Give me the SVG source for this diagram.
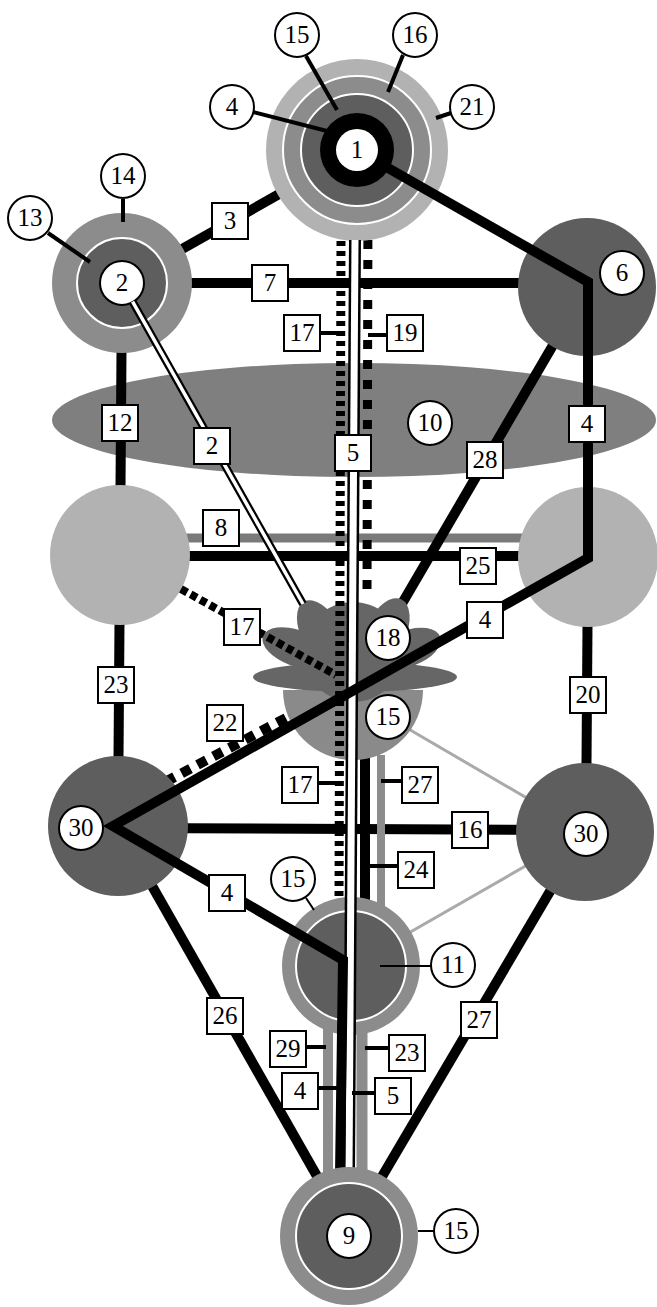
<svg xmlns="http://www.w3.org/2000/svg" width="657" height="1307" viewBox="0 0 657 1307">
<style>
.bl{stroke:#000;stroke-width:10;fill:none}
.box{fill:#fff;stroke:#000;stroke-width:2}
.lc{fill:#fff;stroke:#000;stroke-width:2}
.t{font-family:"Liberation Serif","DejaVu Serif",serif;font-size:25px;text-anchor:middle;fill:#000}
.ld{stroke:#000;stroke-width:4;fill:none}
.thin{stroke:#000;stroke-width:2;fill:none}
.lg{fill:#b2b2b2}
.mg{fill:#8c8c8c}
.dg{fill:#5e5e5e}
.pet{fill:#666}
</style>
<rect width="657" height="1307" fill="#fff"/>

<g id="node-10">
<ellipse cx="354" cy="420" rx="302" ry="57" fill="#7f7f7f"/>
<circle cx="430" cy="423" r="22" class="lc"/><text x="430" y="431" class="t">10</text>
</g>

<g id="connectors">
<line class="bl" x1="122" y1="283" x2="357" y2="150"/>
<line class="bl" x1="122" y1="283" x2="587" y2="283"/>
<line class="bl" x1="122" y1="283" x2="120" y2="555"/>
<line class="bl" x1="120" y1="555" x2="118" y2="826"/>
<line class="bl" x1="588" y1="557" x2="586" y2="832"/>
<line class="bl" x1="118" y1="828" x2="585" y2="830"/>
<line class="bl" x1="118" y1="826" x2="351" y2="1236"/>
<line class="bl" x1="585" y1="832" x2="347" y2="1236"/>
<line x1="120" y1="538" x2="588" y2="538" stroke="#7a7a7a" stroke-width="9"/>
<line class="bl" x1="120" y1="556" x2="588" y2="556"/>
<line class="bl" x1="587" y1="287" x2="400" y2="607"/>
<line x1="118" y1="807" x2="286" y2="718" stroke="#000" stroke-width="10" stroke-dasharray="10 8"/>
<line x1="351" y1="966" x2="585" y2="832" stroke="#aaa" stroke-width="3"/>
<line x1="388" y1="717" x2="585" y2="832" stroke="#aaa" stroke-width="3"/>
<line x1="368" y1="200" x2="367" y2="596" stroke="#000" stroke-width="9" stroke-dasharray="9 11"/>
<line x1="365" y1="755" x2="365" y2="910" stroke="#000" stroke-width="10"/>
<line x1="381" y1="755" x2="381" y2="910" stroke="#8c8c8c" stroke-width="8"/>
<line x1="328" y1="1000" x2="328" y2="1180" stroke="#8c8c8c" stroke-width="10"/>
<line x1="362" y1="1000" x2="362" y2="1180" stroke="#8c8c8c" stroke-width="11"/>
</g>

<g id="node-2">
<circle cx="122" cy="283" r="70" class="mg"/>
<circle cx="122" cy="283" r="45" class="dg" stroke="#fff" stroke-width="2"/>
<circle cx="122" cy="283" r="22" class="lc"/><text x="122" y="291" class="t">2</text>
<line class="ld" x1="123" y1="199" x2="123" y2="222"/>
<circle cx="123" cy="176" r="22" class="lc"/><text x="123" y="184" class="t">14</text>
<line class="ld" x1="48" y1="233" x2="90" y2="262"/>
<circle cx="30" cy="218" r="22" class="lc"/><text x="30" y="226" class="t">13</text>
</g>

<g id="node-6">
<circle cx="587" cy="287" r="69" class="dg"/>
<circle cx="622" cy="273" r="22" class="lc"/><text x="622" y="281" class="t">6</text>
</g>

<g id="node-left-mid"><circle cx="120" cy="555" r="70" class="lg"/></g>
<g id="node-right-mid"><circle cx="588" cy="557" r="70" class="lg"/></g>

<g id="node-30-left">
<circle cx="118" cy="826" r="70" class="dg"/>
<circle cx="81" cy="828" r="22" class="lc"/><text x="81" y="836" class="t">30</text>
</g>

<g id="node-30-right">
<circle cx="585" cy="832" r="69" class="dg"/>
<circle cx="586" cy="834" r="22" class="lc"/><text x="586" y="842" class="t">30</text>
</g>

<g id="node-11">
<circle cx="351" cy="966" r="69" class="mg"/>
<circle cx="351" cy="966" r="55" class="dg" stroke="#fff" stroke-width="2"/>
<line class="thin" x1="380" y1="966" x2="431" y2="966"/>
<circle cx="453" cy="965" r="22" class="lc"/><text x="453" y="973" class="t">11</text>
<line class="thin" x1="306" y1="898" x2="314" y2="910"/>
<circle cx="293" cy="879" r="22" class="lc"/><text x="293" y="887" class="t">15</text>
</g>

<g id="node-flower">
<path d="M283,690 A70,70 0 0 0 423,690 Z" fill="#8a8a8a"/>
<ellipse cx="353" cy="652" rx="50" ry="50" class="pet"/>
<ellipse cx="322" cy="635" rx="20" ry="38" class="pet" transform="rotate(-28 322 635)"/>
<ellipse cx="386" cy="632" rx="20" ry="36" class="pet" transform="rotate(25 386 632)"/>
<ellipse cx="296" cy="648" rx="35" ry="18" class="pet" transform="rotate(20 296 648)"/>
<ellipse cx="409" cy="648" rx="33" ry="18" class="pet" transform="rotate(-20 409 648)"/>
<ellipse cx="355" cy="677" rx="102" ry="15" class="pet"/>
<circle cx="388" cy="638" r="22" class="lc"/><text x="388" y="646" class="t">18</text>
<circle cx="388" cy="717" r="22" class="lc"/><text x="388" y="725" class="t">15</text>
</g>

<g id="node-1">
<circle cx="357" cy="150" r="91" class="lg"/>
<circle cx="357" cy="150" r="74" class="mg" stroke="#fff" stroke-width="2"/>
<circle cx="357" cy="150" r="56" class="dg" stroke="#fff" stroke-width="2"/>
<circle cx="357" cy="150" r="37" fill="#000"/>
<circle cx="357" cy="150" r="21" fill="#fff"/>
<text x="357" y="158" class="t">1</text>
<line class="ld" x1="306" y1="56" x2="337" y2="110"/>
<circle cx="297" cy="35" r="22" class="lc"/><text x="297" y="43" class="t">15</text>
<line class="ld" x1="403" y1="55" x2="388" y2="92"/>
<circle cx="415" cy="35" r="22" class="lc"/><text x="415" y="43" class="t">16</text>
<line class="ld" x1="253" y1="112" x2="327" y2="131"/>
<circle cx="232" cy="107" r="22" class="lc"/><text x="232" y="115" class="t">4</text>
<line class="ld" x1="436" y1="118" x2="451" y2="113"/>
<circle cx="472" cy="107" r="22" class="lc"/><text x="472" y="115" class="t">21</text>
</g>

<g id="connectors-front">
<line x1="341" y1="241" x2="339" y2="897" stroke="#000" stroke-width="9" stroke-dasharray="5 5"/>
<line x1="181" y1="589" x2="336" y2="675" stroke="#000" stroke-width="8" stroke-dasharray="7 4"/>
<line x1="355" y1="240" x2="349" y2="1172" stroke="#000" stroke-width="12"/>
<line x1="355" y1="240" x2="349" y2="1172" stroke="#fff" stroke-width="7"/>
<line x1="132.6" y1="301.7" x2="303" y2="604" stroke="#000" stroke-width="8"/>
<line x1="132.6" y1="301.7" x2="303" y2="604" stroke="#fff" stroke-width="3.5"/>
<path class="bl" d="M388,168 L588,282 L588,558 L113,826 L343,960 L340,1175"/>
<line class="ld" x1="320" y1="333" x2="339" y2="333"/>
<line class="ld" x1="368" y1="335" x2="387" y2="335"/>
<line class="ld" x1="318" y1="783" x2="338" y2="783"/>
<line class="ld" x1="381" y1="781" x2="401" y2="781"/>
<line class="ld" x1="365" y1="866" x2="398" y2="866"/>
<line class="ld" x1="307" y1="1047" x2="326" y2="1047"/>
<line class="ld" x1="365" y1="1048" x2="389" y2="1048"/>
<line class="ld" x1="318" y1="1088" x2="338" y2="1088"/>
<line class="ld" x1="352" y1="1093" x2="375" y2="1093"/>
</g>

<g id="node-9">
<circle cx="349" cy="1236" r="69" class="mg"/>
<circle cx="349" cy="1236" r="53" class="dg" stroke="#fff" stroke-width="2"/>
<circle cx="349" cy="1236" r="22" class="lc"/><text x="349" y="1244" class="t">9</text>
<line class="thin" x1="418" y1="1231" x2="434" y2="1231"/>
<circle cx="456" cy="1231" r="22" class="lc"/><text x="456" y="1239" class="t">15</text>
</g>

<g id="edge-labels">
<rect class="box" x="212" y="203" width="36" height="36"/><text class="t" x="230" y="229">3</text>
<rect class="box" x="252" y="265" width="36" height="36"/><text class="t" x="270" y="291">7</text>
<rect class="box" x="284" y="315" width="36" height="36"/><text class="t" x="302" y="341">17</text>
<rect class="box" x="387" y="315" width="36" height="36"/><text class="t" x="405" y="341">19</text>
<rect class="box" x="102" y="405" width="36" height="36"/><text class="t" x="120" y="431">12</text>
<rect class="box" x="194" y="428" width="36" height="36"/><text class="t" x="212" y="454">2</text>
<rect class="box" x="335" y="435" width="36" height="36"/><text class="t" x="353" y="461">5</text>
<rect class="box" x="467" y="442" width="36" height="36"/><text class="t" x="485" y="468">28</text>
<rect class="box" x="569" y="406" width="36" height="36"/><text class="t" x="587" y="432">4</text>
<rect class="box" x="203" y="510" width="36" height="36"/><text class="t" x="221" y="536">8</text>
<rect class="box" x="460" y="548" width="36" height="36"/><text class="t" x="478" y="574">25</text>
<rect class="box" x="224" y="609" width="36" height="36"/><text class="t" x="242" y="635">17</text>
<rect class="box" x="467" y="602" width="36" height="36"/><text class="t" x="485" y="628">4</text>
<rect class="box" x="98" y="667" width="36" height="36"/><text class="t" x="116" y="693">23</text>
<rect class="box" x="570" y="677" width="36" height="36"/><text class="t" x="588" y="703">20</text>
<rect class="box" x="207" y="705" width="36" height="36"/><text class="t" x="225" y="731">22</text>
<rect class="box" x="282" y="767" width="36" height="36"/><text class="t" x="300" y="793">17</text>
<rect class="box" x="402" y="767" width="36" height="36"/><text class="t" x="420" y="793">27</text>
<rect class="box" x="452" y="812" width="36" height="36"/><text class="t" x="470" y="838">16</text>
<rect class="box" x="398" y="852" width="36" height="36"/><text class="t" x="416" y="878">24</text>
<rect class="box" x="209" y="875" width="36" height="36"/><text class="t" x="227" y="901">4</text>
<rect class="box" x="207" y="998" width="36" height="36"/><text class="t" x="225" y="1024">26</text>
<rect class="box" x="461" y="1002" width="36" height="36"/><text class="t" x="479" y="1028">27</text>
<rect class="box" x="270" y="1031" width="36" height="36"/><text class="t" x="288" y="1057">29</text>
<rect class="box" x="389" y="1035" width="36" height="36"/><text class="t" x="407" y="1061">23</text>
<rect class="box" x="282" y="1073" width="36" height="36"/><text class="t" x="300" y="1099">4</text>
<rect class="box" x="375" y="1078" width="36" height="36"/><text class="t" x="393" y="1104">5</text>
</g>
</svg>
